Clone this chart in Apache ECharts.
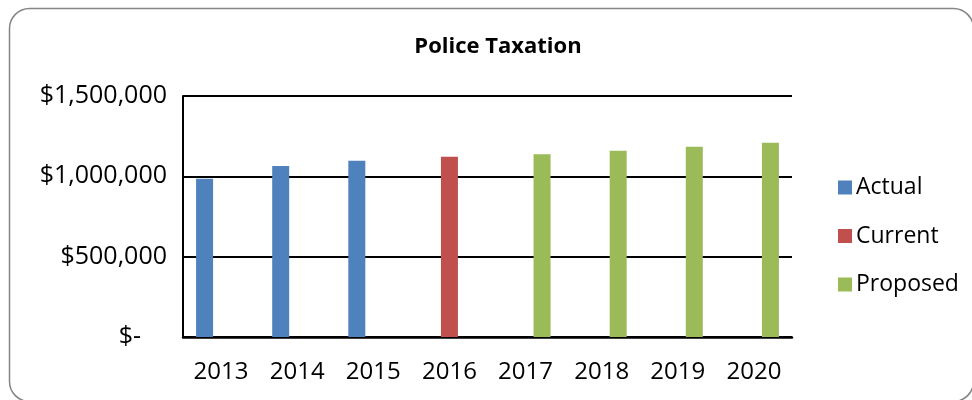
<!DOCTYPE html>
<html>
<head>
<meta charset="utf-8">
<script src="https://cdn.jsdelivr.net/npm/echarts@6/dist/echarts.min.js"></script>
<style>
  html, body { margin: 0; padding: 0; background: #fff; }
  #chart { width: 972px; height: 400px; }
</style>
</head>
<body>
<div id="chart"></div>
<script>
// Fiscal years shown on the category axis
const years = ['2013', '2014', '2015', '2016', '2017', '2018', '2019', '2020'];
// Police taxation by status (null where a year belongs to another status)
const actual   = [985000, 1065000, 1097000, null, null, null, null, null];
const current  = [null, null, null, 1122000, null, null, null, null];
const proposed = [null, null, null, null, 1138000, 1159000, 1184000, 1209000];
// Value axis ticks
const yTicks = [0, 500000, 1000000, 1500000];

const FONT = '"Open Sans", "Noto Sans", sans-serif';

function money(v) {
  if (v === 0) return '{z|$-}';
  return '$' + v.toLocaleString('en-US');
}

const chart = echarts.init(document.getElementById('chart'), null, { renderer: 'canvas' });

const barBase = { type: 'bar', barWidth: 17, barGap: '-3%' };

chart.setOption({
  animation: false,
  backgroundColor: '#ffffff',
  title: {
    text: 'Police Taxation',
    left: 493, top: 31, textAlign: 'center',
    textStyle: { fontFamily: FONT, fontSize: 22, fontWeight: 'bold', color: '#000' }
  },
  graphic: [{
    type: 'rect',
    shape: { x: 9.5, y: 8.5, width: 964, height: 393, r: 20 },
    style: { fill: 'none', stroke: '#858585', lineWidth: 1.5 },
    silent: true
  }],
  legend: {
    orient: 'vertical',
    left: 833, top: 171,
    itemWidth: 14, itemHeight: 14, itemGap: 25.5,
    icon: 'rect',
    textStyle: { fontFamily: FONT, fontSize: 23, color: '#000', padding: [0, 0, 0, -1] },
    data: ['Actual', 'Current', 'Proposed']
  },
  grid: { left: 183, right: 180, top: 96, bottom: 63, containLabel: false },
  xAxis: {
    type: 'category',
    data: years,
    axisLine: { lineStyle: { color: '#000', width: 2.5 } },
    axisTick: { show: false },
    axisLabel: { fontFamily: FONT, fontSize: 24, color: '#000', margin: 23 }
  },
  yAxis: {
    type: 'value',
    min: yTicks[0], max: yTicks[yTicks.length - 1], interval: yTicks[1] - yTicks[0],
    axisLine: { show: true, lineStyle: { color: '#000', width: 2 } },
    axisTick: { show: false },
    splitLine: { lineStyle: { color: '#000', width: 2 } },
    axisLabel: {
      fontFamily: FONT, fontSize: 25, color: '#000', margin: 16,
      formatter: money,
      rich: { z: { fontFamily: FONT, fontSize: 25, color: '#000', padding: [0, 26, 0, 0] } }
    }
  },
  series: [
    Object.assign({}, barBase, { name: 'Actual', data: actual, itemStyle: { color: '#4F81BD' } }),
    Object.assign({}, barBase, { name: 'Current', data: current, itemStyle: { color: '#C0504D' } }),
    Object.assign({}, barBase, { name: 'Proposed', data: proposed, itemStyle: { color: '#9BBB59' } })
  ]
});
</script>
</body>
</html>
